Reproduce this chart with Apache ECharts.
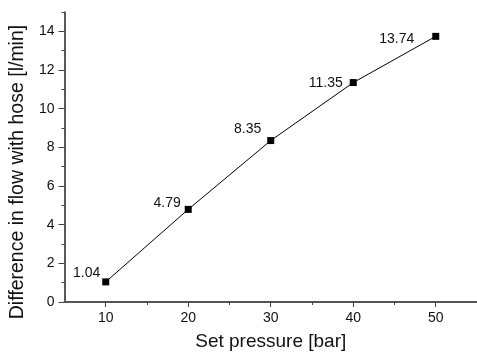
<!DOCTYPE html>
<html>
<head>
<meta charset="utf-8">
<script src="https://cdn.jsdelivr.net/npm/echarts@6/dist/echarts.min.js"></script>
<style>
  html, body { margin: 0; padding: 0; background: #fff; }
  #chart { width: 477px; height: 356px; }
</style>
</head>
<body>
<div id="chart"></div>
<script>
// Measured flow difference (with hose) against the set pressure
const setPressure = [10, 20, 30, 40, 50];
const flowDifference = [1.04, 4.79, 8.35, 11.35, 13.74];

// Axis ticks
const xMajorTicks = [10, 20, 30, 40, 50];
const xMinorTicks = [15, 25, 35, 45];
const yMajorTicks = [0, 2, 4, 6, 8, 10, 12, 14];
const yMinorTicks = [1, 3, 5, 7, 9, 11, 13, 15];

// Label placement around each marker: [dx, dy, distance]
const labelNudge = [[0, -9, 2], [0, -6, 4], [0, -11, 6], [0, 1, 7], [0, 3, 18]];

const FONT = "Arial, 'Liberation Sans', sans-serif";
const INK = '#111';

const chart = echarts.init(document.getElementById('chart'), null, { renderer: 'canvas' });

const points = setPressure.map((x, i) => ({
  value: [x, flowDifference[i]],
  label: {
    offset: [labelNudge[i][0], labelNudge[i][1]],
    distance: labelNudge[i][2]
  }
}));

const minorAxisCommon = {
  axisLine: { show: false },
  axisLabel: { show: false },
  splitLine: { show: false },
  axisTick: { show: true, inside: false, length: 3, lineStyle: { color: '#444', width: 1 } }
};

chart.setOption({
  animation: false,
  backgroundColor: '#fff',
  grid: { left: 60, right: 0, top: 12, bottom: 50, containLabel: false },
  xAxis: [
    {
      type: 'value', min: 5, max: 55, position: 'bottom',
      name: 'Set pressure [bar]', nameLocation: 'middle', nameGap: 30,
      nameTextStyle: { fontFamily: FONT, fontSize: 19, color: INK },
      axisLine: { show: true, onZero: false, lineStyle: { color: '#555', width: 2 } },
      axisTick: { show: true, customValues: xMajorTicks, length: 5, lineStyle: { color: '#444', width: 1 } },
      axisLabel: { customValues: xMajorTicks, margin: 9, fontFamily: FONT, fontSize: 14, color: INK },
      splitLine: { show: false }
    },
    Object.assign({ type: 'value', min: 5, max: 55, position: 'bottom', offset: 0 }, minorAxisCommon,
      { axisTick: Object.assign({}, minorAxisCommon.axisTick, { customValues: xMinorTicks }) })
  ],
  yAxis: [
    {
      type: 'value', min: 0, max: 15, position: 'left',
      name: 'Difference in flow with hose [l/min]', nameLocation: 'middle', nameGap: 36,
      // the title sits a little below the middle of the axis
      nameTextStyle: { fontFamily: FONT, fontSize: 19.5, color: INK, padding: [0, 30, 0, 0] },
      axisLine: { show: true, onZero: false, lineStyle: { color: '#222', width: 1.5 } },
      axisTick: { show: true, customValues: yMajorTicks, length: 6, lineStyle: { color: '#444', width: 1 } },
      axisLabel: { customValues: yMajorTicks, margin: 10, fontFamily: FONT, fontSize: 14, color: INK },
      splitLine: { show: false }
    },
    Object.assign({ type: 'value', min: 0, max: 15, position: 'left', offset: 0 }, minorAxisCommon,
      { axisTick: Object.assign({}, minorAxisCommon.axisTick, { customValues: yMinorTicks }) })
  ],
  series: [{
    type: 'line',
    xAxisIndex: 0,
    yAxisIndex: 0,
    data: points,
    symbol: 'rect',
    symbolSize: 7,
    itemStyle: { color: '#000' },
    lineStyle: { color: '#000', width: 1 },
    label: {
      show: true,
      position: 'left',
      fontFamily: FONT,
      fontSize: 14,
      color: INK,
      formatter: p => p.value[1].toFixed(2)
    }
  }]
});
</script>
</body>
</html>
